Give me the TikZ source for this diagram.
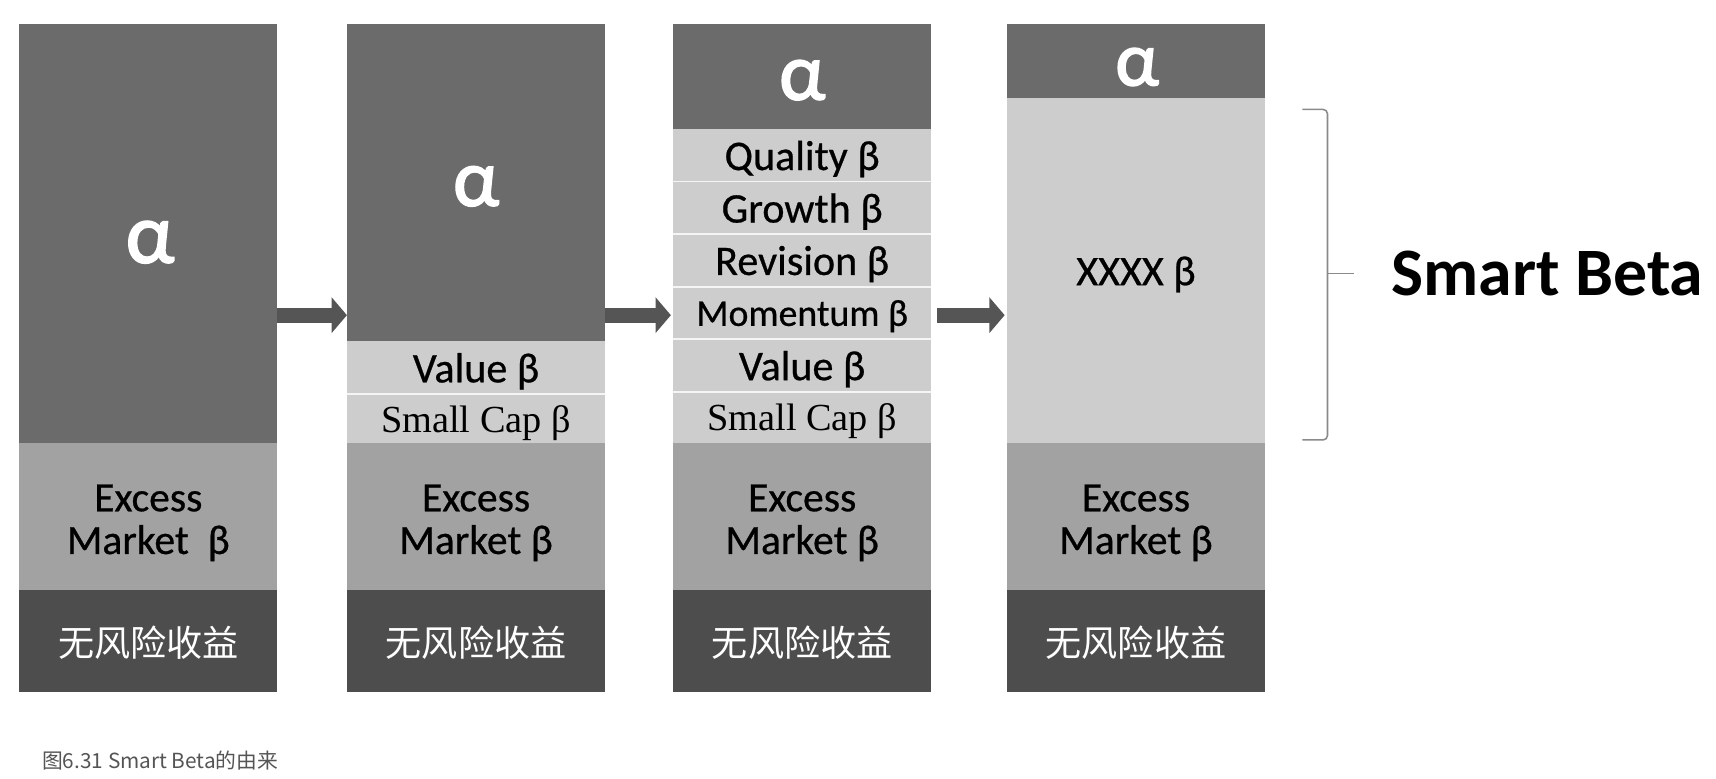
\documentclass[tikz,border=0pt]{standalone}
\usepackage{fontspec}
\setmainfont{Carlito}
\newfontfamily\semib[FakeBold=0.6]{Carlito}
\newfontfamily\alphafont[FakeBold=2.2]{Carlito}
\newfontfamily\serifTNR{Liberation Serif}
\newfontfamily\cjk{Noto Sans CJK SC}
\usetikzlibrary{arrows.meta}
\definecolor{alphagray}{HTML}{6B6B6B}
\definecolor{lightgrayb}{HTML}{CDCDCD}
\definecolor{midgray}{HTML}{A2A2A2}
\definecolor{darkgrayb}{HTML}{4D4D4D}
\definecolor{arrowgray}{HTML}{555555}
\definecolor{bracegray}{HTML}{8A8A8A}
\definecolor{captiongray}{HTML}{555555}
\begin{document}
\begin{tikzpicture}[x=1pt,y=-1pt,
 cell/.style={rectangle,inner sep=0pt,outer sep=0pt,minimum width=236pt,text=black,align=center,text depth=0pt},
 alphacell/.style={cell,fill=alphagray},
 alphatext/.style={anchor=base,inner sep=0pt,text=white},
 betacell/.style={cell,fill=lightgrayb,font=\semib\fontsize{38.5pt}{40pt}\selectfont},
 smallcap/.style={cell,fill=lightgrayb,font=\serifTNR\fontsize{35pt}{38pt}\selectfont},
 excesscell/.style={cell,fill=midgray,minimum height=139pt,font=\semib\fontsize{38pt}{39pt}\selectfont},
 rfcell/.style={cell,fill=darkgrayb,minimum height=93pt,text=white,font=\cjk\fontsize{33pt}{36pt}\selectfont},
 sepline/.style={draw=white!80!lightgrayb,line width=1.5pt},
 bigarrow/.style={draw=arrowgray,line width=14pt,-{Triangle[length=14pt,width=32pt]}},
 bracepath/.style={draw=bracegray,line width=1.4pt,rounded corners=4pt}]
\useasboundingbox (0,0) rectangle (1568,711);
\fill[white] (0,0) rectangle (1568,711);

% Column 1
\node[excesscell] (e1) at (135.5,474.5) {Excess\\Market~~β};
\node[alphacell,minimum height=383pt] (a1) at (135.5,213.5) {};
\node[alphatext,font=\alphafont\fontsize{78pt}{80pt}\selectfont] (t1) at (137,240) {α};
\node[rfcell] (r1) at (135.5,585.5) {无风险收益};

% Column 2
\node[excesscell] (e2) at (435,474.5) {Excess\\Market β};
\node[alphacell,minimum height=290pt] (a2) at (435,167) {};
\node[alphatext,font=\alphafont\fontsize{74pt}{76pt}\selectfont] (t2) at (435,188) {α};
\node[betacell,minimum height=48pt] (v2) at (435,336) {Value β};
\node[smallcap,minimum height=45pt] (s2) at (435,382.5) {Small Cap β};
\node[rfcell] (r2) at (435,585.5) {无风险收益};
\draw[sepline] (v2.south west) -- (v2.south east);

% Column 3
\node[excesscell] (e3) at (733,474.5) {Excess\\Market β};
\node[alphacell,minimum height=96pt] (a3) at (733,70) {};
\node[alphatext,font=\alphafont\fontsize{74pt}{76pt}\selectfont] (t3) at (733,91) {α};
\node[betacell,minimum height=48pt] (q3) at (733,142) {Quality β};
\node[betacell,minimum height=48pt] (g3) at (733,190) {Growth β};
\node[betacell,minimum height=48pt] (rv3) at (733,238) {Revision β};
\node[betacell,minimum height=48pt,font=\semib\fontsize{34.5pt}{36pt}\selectfont] (m3) at (733,286) {Momentum β};
\node[betacell,minimum height=48pt] (v3) at (733,334) {Value β};
\node[smallcap,minimum height=47pt] (s3) at (733,381.5) {Small Cap β};
\node[rfcell] (r3) at (733,585.5) {无风险收益};
\foreach \n in {q3,g3,rv3,m3,v3}{\draw[sepline] (\n.south west) -- (\n.south east);}

% Column 4
\node[excesscell] (e4) at (1038,474.5) {Excess\\Market β};
\node[alphacell,minimum height=68pt] (a4) at (1038,56) {};
\node[alphatext,font=\alphafont\fontsize{70pt}{72pt}\selectfont] (t4) at (1039,78) {α};
\node[betacell,minimum height=315pt] (x4) at (1038,247.5) {XXXX β};
\node[rfcell] (r4) at (1038,585.5) {无风险收益};

% Arrows
\coordinate (ylev) at (0,288);
\draw[bigarrow] (a1.east |- ylev) -- (a2.west |- ylev);
\draw[bigarrow,shorten >=2pt] (a2.east |- ylev) -- (a3.west |- ylev);
\draw[bigarrow,shorten <=5pt,shorten >=2pt] (a3.east |- ylev) -- (a4.west |- ylev);

% Brace and label
\coordinate (bt) at (1190,100);
\coordinate (bb) at (1190,402);
\coordinate (bx) at (1213,0);
\coordinate (bm) at (1237,250);
\draw[bracepath] (bt) -- (bx |- bt) -- (bx |- bb) -- (bb);
\draw[bracepath] (bx |- bm) -- (bm);
\node[anchor=west,font=\fontsize{62pt}{64pt}\selectfont\bfseries] (sb) at (1268,250) {Smart Beta};

% Caption
\node[anchor=west,text=captiongray,font=\cjk\fontsize{19pt}{21pt}\selectfont] (cap) at (35,695) {图6.31 Smart Beta的由来};
\end{tikzpicture}
\end{document}
